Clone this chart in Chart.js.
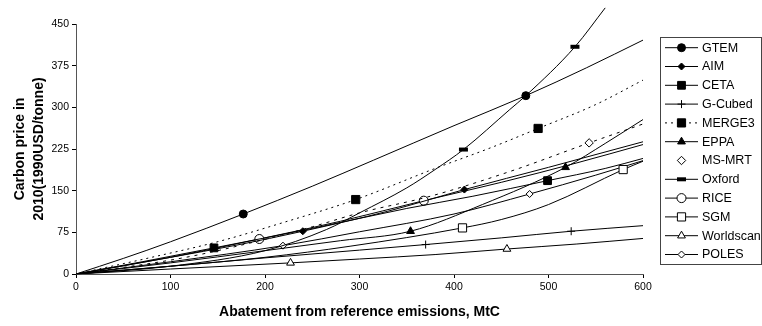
<!DOCTYPE html>
<html>
<head>
<meta charset="utf-8">
<script src="https://cdn.jsdelivr.net/npm/chart.js@4/dist/chart.umd.min.js"></script>
<style>
  html, body { margin: 0; padding: 0; background: #fff; }
</style>
</head>
<body>
<canvas id="chart" width="762" height="326"></canvas>
<script>
// values: abatement (MtC) vs carbon price
const xTicks = [0, 100, 200, 300, 400, 500, 600];
const yTicks = [0, 75, 150, 225, 300, 375, 450];

const gtemX = [0, 50, 100, 177, 250, 315, 400, 476, 540, 600];
const gtemY = [0, 28, 58, 108, 158, 205, 267, 321, 371, 421];
const gtemMarks = [177, 476];

const aimX = [0, 100, 170, 240, 330, 411, 500, 600];
const aimY = [0, 30, 52, 77, 113, 152, 192, 238];
const aimMarks = [240, 411];

const cetaX = [0, 70, 146, 250, 350, 420, 499, 560, 600];
const cetaY = [0, 22, 47, 82, 118, 140, 168, 190, 208];
const cetaMarks = [146, 499];

const gcubedX = [0, 100, 200, 300, 370, 450, 524, 600];
const gcubedY = [0, 14, 29, 43, 53, 65, 77, 87];
const gcubedMarks = [370, 524];

const merge3X = [0, 80, 152, 220, 296, 380, 440, 489, 550, 600];
const merge3Y = [0, 30, 59, 93, 134, 190, 228, 262, 305, 349];
const merge3Marks = [296, 489];

const eppaX = [0, 100, 200, 280, 354, 430, 518, 560, 600];
const eppaY = [0, 20, 42, 60, 77, 125, 192, 235, 278];
const eppaMarks = [354, 518];

const msmrtX = [0, 100, 150, 250, 300, 375, 460, 543, 600];
const msmrtY = [0, 25, 42, 85, 110, 140, 185, 236, 270];
const msmrtMarks = [543];

const oxfordX = [0, 100, 200, 265, 300, 350, 380, 410, 459, 476, 528, 560];
const oxfordY = [0, 14, 42, 80, 110, 155, 188, 224, 296, 321, 409, 479];
const oxfordMarks = [410, 528];

const riceX = [0, 100, 194, 280, 368, 450, 530, 600];
const riceY = [0, 30, 63, 95, 132, 165, 200, 233];
const riceMarks = [194, 368];

const sgmX = [0, 100, 200, 290, 409, 450, 500, 579, 600];
const sgmY = [0, 14, 30, 50, 83, 98, 125, 188, 203];
const sgmMarks = [409, 579];

const worldscanX = [0, 100, 227, 300, 380, 456, 530, 600];
const worldscanY = [0, 9, 20, 27, 35, 45, 54, 64];
const worldscanMarks = [227, 456];

const polesX = [0, 100, 219, 300, 400, 480, 550, 600];
const polesY = [0, 22, 51, 76, 108, 144, 178, 204];
const polesMarks = [219, 480];

const series = [
  { name: 'GTEM', x: gtemX, y: gtemY, marks: gtemMarks },
  { name: 'AIM', x: aimX, y: aimY, marks: aimMarks },
  { name: 'CETA', x: cetaX, y: cetaY, marks: cetaMarks },
  { name: 'G-Cubed', x: gcubedX, y: gcubedY, marks: gcubedMarks },
  { name: 'MERGE3', x: merge3X, y: merge3Y, marks: merge3Marks },
  { name: 'EPPA', x: eppaX, y: eppaY, marks: eppaMarks },
  { name: 'MS-MRT', x: msmrtX, y: msmrtY, marks: msmrtMarks },
  { name: 'Oxford', x: oxfordX, y: oxfordY, marks: oxfordMarks },
  { name: 'RICE', x: riceX, y: riceY, marks: riceMarks },
  { name: 'SGM', x: sgmX, y: sgmY, marks: sgmMarks },
  { name: 'Worldscan', x: worldscanX, y: worldscanY, marks: worldscanMarks },
  { name: 'POLES', x: polesX, y: polesY, marks: polesMarks },
];

// marker look per series
const looks = {
  'GTEM':      { shape: 'circle',   r: 4,   fill: '#000' },
  'AIM':       { shape: 'rectRot',  r: 3.5, fill: '#000' },
  'CETA':      { shape: 'rect',     r: 5.5, fill: '#000' },
  'G-Cubed':   { shape: 'cross',    r: 4,   fill: '#000' },
  'MERGE3':    { shape: 'rect',     r: 5.8, fill: '#000', dash: [2, 4] },
  'EPPA':      { shape: 'triangle', r: 4.5, fill: '#000' },
  'MS-MRT':    { shape: 'rectRot',  r: 4.2, fill: '#fff', dash: [3, 5], noLegendLine: true },
  'Oxford':    { shape: 'line',     r: 4.5, fill: '#000', pw: 4 },
  'RICE':      { shape: 'circle',   r: 4.5, fill: '#fff' },
  'SGM':       { shape: 'rect',     r: 5.8, fill: '#fff' },
  'Worldscan': { shape: 'triangle', r: 4.5, fill: '#fff' },
  'POLES':     { shape: 'rectRot',  r: 3.5, fill: '#fff' },
};

const datasets = series.map(s => {
  const look = looks[s.name];
  return {
    label: s.name,
    data: s.x.map((x, i) => ({ x, y: s.y[i] })),
    borderColor: '#000',
    borderWidth: 1,
    borderDash: look.dash || [],
    cubicInterpolationMode: 'monotone',
    pointStyle: look.shape,
    pointRadius: c => (c.raw && s.marks.includes(c.raw.x)) ? look.r : 0,
    pointHoverRadius: 0,
    pointBackgroundColor: look.fill,
    pointBorderColor: '#000',
    pointBorderWidth: look.pw || 1,
    clip: s.name === 'Oxford' ? false : undefined,
  };
});

const legendBox = {
  id: 'legendBox',
  afterDraw(chart) {
    const ctx = chart.ctx;
    ctx.save();
    ctx.strokeStyle = '#444';
    ctx.lineWidth = 1;
    ctx.strokeRect(660.5, 37.5, 101, 227);
    ctx.font = '12.5px "Liberation Sans", Arial, sans-serif';
    ctx.textBaseline = 'middle';
    ctx.fillStyle = '#000';
    series.forEach((s, i) => {
      const look = looks[s.name];
      const y = 47.7 + i * 18.8;
      if (!look.noLegendLine) {
        ctx.save();
        ctx.strokeStyle = '#000';
        ctx.lineWidth = 1;
        ctx.setLineDash(look.dash || []);
        ctx.beginPath();
        ctx.moveTo(665, y);
        ctx.lineTo(698, y);
        ctx.stroke();
        ctx.restore();
      }
      ctx.save();
      ctx.fillStyle = look.fill;
      ctx.strokeStyle = '#000';
      ctx.lineWidth = look.pw || 1;
      Chart.helpers.drawPoint(ctx, { pointStyle: look.shape, radius: look.r, rotation: 0, borderWidth: look.pw || 1 }, 681.5, y);
      ctx.restore();
      ctx.fillText(s.name, 702, y + 0.5);
    });
    ctx.restore();
  }
};

new Chart(document.getElementById('chart').getContext('2d'), {
  type: 'line',
  data: { datasets },
  plugins: [legendBox],
  options: {
    responsive: false,
    animation: false,
    events: [],
    layout: { padding: { top: 24, right: 119, left: 0, bottom: 0 } },
    plugins: { legend: { display: false }, tooltip: { enabled: false } },
    scales: {
      x: {
        type: 'linear',
        min: 0,
        max: 600,
        afterFit: sc => { sc.height = 52; },
        afterBuildTicks: sc => { sc.ticks = xTicks.map(v => ({ value: v })); },
        grid: { drawOnChartArea: false, tickLength: 4, color: '#000' },
        border: { color: '#555', width: 1 },
        ticks: { color: '#000', padding: 3, maxRotation: 0, font: { family: '"Liberation Sans", Arial', size: 10.5 } },
        title: {
          display: true,
          text: 'Abatement from reference emissions, MtC',
          color: '#000',
          font: { family: '"Liberation Sans", Arial', size: 14, weight: 'bold', lineHeight: 1.32 },
          padding: { top: 0, bottom: 5 }
        }
      },
      y: {
        type: 'linear',
        min: 0,
        max: 450,
        afterFit: sc => { sc.width = 76; },
        afterBuildTicks: sc => { sc.ticks = yTicks.map(v => ({ value: v })); },
        grid: { drawOnChartArea: false, tickLength: 4, color: '#000' },
        border: { color: '#555', width: 1 },
        ticks: { color: '#000', padding: 3, font: { family: '"Liberation Sans", Arial', size: 10.5 } },
        title: {
          display: true,
          text: ['Carbon price in', '2010(1990USD/tonne)'],
          color: '#000',
          font: { family: '"Liberation Sans", Arial', size: 14, weight: 'bold', lineHeight: 1.32 },
          padding: { top: 11, bottom: 0 }
        }
      }
    }
  }
});
</script>
</body>
</html>
